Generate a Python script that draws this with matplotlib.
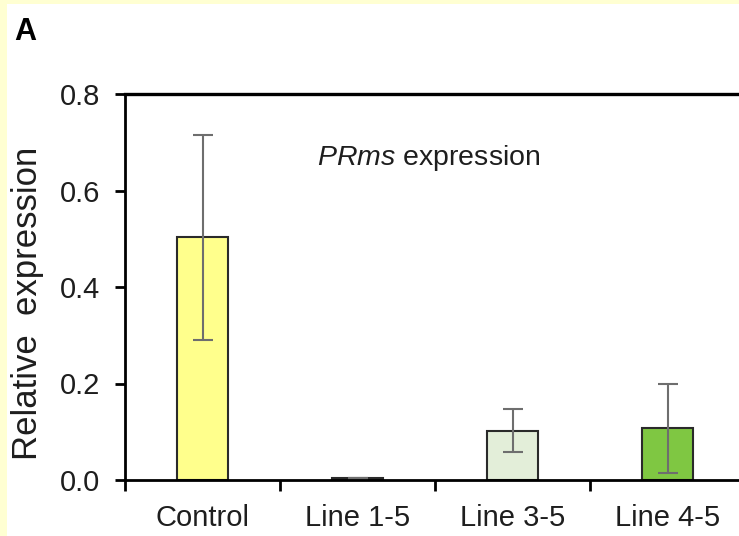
import matplotlib
matplotlib.use("Agg")
import matplotlib.pyplot as plt
from matplotlib import font_manager
from matplotlib.patches import Rectangle

# Data
categories = ["Control", "Line 1-5", "Line 3-5", "Line 4-5"]
values = [0.503, 0.005, 0.102, 0.107]
errors = [0.212, 0.0, 0.045, 0.092]
bar_colors = ["#FFFF8C", "#111111", "#E3EED9", "#7FC742"]
y_ticks = [0.0, 0.2, 0.4, 0.6, 0.8]

plt.rcParams["font.family"] = ["Liberation Sans", "DejaVu Sans"]
plt.rcParams["mathtext.fontset"] = "custom"
plt.rcParams["mathtext.it"] = "Liberation Sans:italic"
plt.rcParams["mathtext.rm"] = "Liberation Sans"

installed = {f.name for f in font_manager.fontManager.ttflist}
panel_font = "Liberation Sans Narrow" if "Liberation Sans Narrow" in installed else "Liberation Sans"

W, H = 739, 536
fig = plt.figure(figsize=(W / 100, H / 100), dpi=100, facecolor="#FFFFD2")
# white panel inside the pale frame
fig.patches.append(Rectangle((7 / W, 0), 1, 1 - 4 / H, transform=fig.transFigure,
                             facecolor="white", edgecolor="none", zorder=-5))

left, right = 125 / W, 745 / W
bottom, top = 1 - 480 / H, 1 - 94 / H
ax = fig.add_axes([left, bottom, right - left, top - bottom])
ax.set_zorder(2)
ax.set_facecolor("white")

x = list(range(len(categories)))
ax.bar(x, values, width=0.33, color=bar_colors, edgecolor="#2a2a2a",
       linewidth=1.5, zorder=2)
ax.errorbar(x, values, yerr=[list(errors), errors], fmt="none",
            ecolor="#6e6e6e", elinewidth=1.5, capsize=7, capthick=1.5, zorder=3)

ax.set_xlim(-0.5, len(categories) - 0.5)
ax.set_ylim(0, 0.8)
ax.set_yticks(y_ticks)
ax.set_yticklabels([f"{t:.1f}" for t in y_ticks])

# tick marks at category boundaries, labels at centres
ax.set_xticks([i - 0.5 for i in range(len(categories) + 1)])
ax.set_xticklabels([])
ax.set_xticks(x, minor=True)
ax.set_xticklabels(categories, minor=True)
ax.tick_params(axis="x", which="major", direction="out", length=8, width=2)
ax.tick_params(axis="x", which="minor", length=0, pad=17, labelsize=21,
               labelcolor="#1e1e1e")
ax.tick_params(axis="y", direction="out", length=7, width=2, pad=11,
               labelsize=21, labelcolor="#1e1e1e")

for side in ["left", "bottom", "top"]:
    ax.spines[side].set_linewidth(2)
    ax.spines[side].set_color("black")
ax.spines["top"].set_linewidth(2.4)
ax.spines["right"].set_visible(False)

ax.set_ylabel("Relative  expression", fontsize=25, color="#1e1e1e")
ax.yaxis.set_label_coords(-0.13, 0.458)

ax.text(1.46, 0.667, r"$\it{PRms}$ expression", fontsize=20.5, color="#1e1e1e",
        ha="center", va="center")

fig.text(14 / W, 1 - 32 / H, "A", fontsize=22, fontweight="bold",
         family=[panel_font, "DejaVu Sans"], ha="left", va="center")

fig.savefig("out.png", dpi=100, facecolor=fig.get_facecolor())
